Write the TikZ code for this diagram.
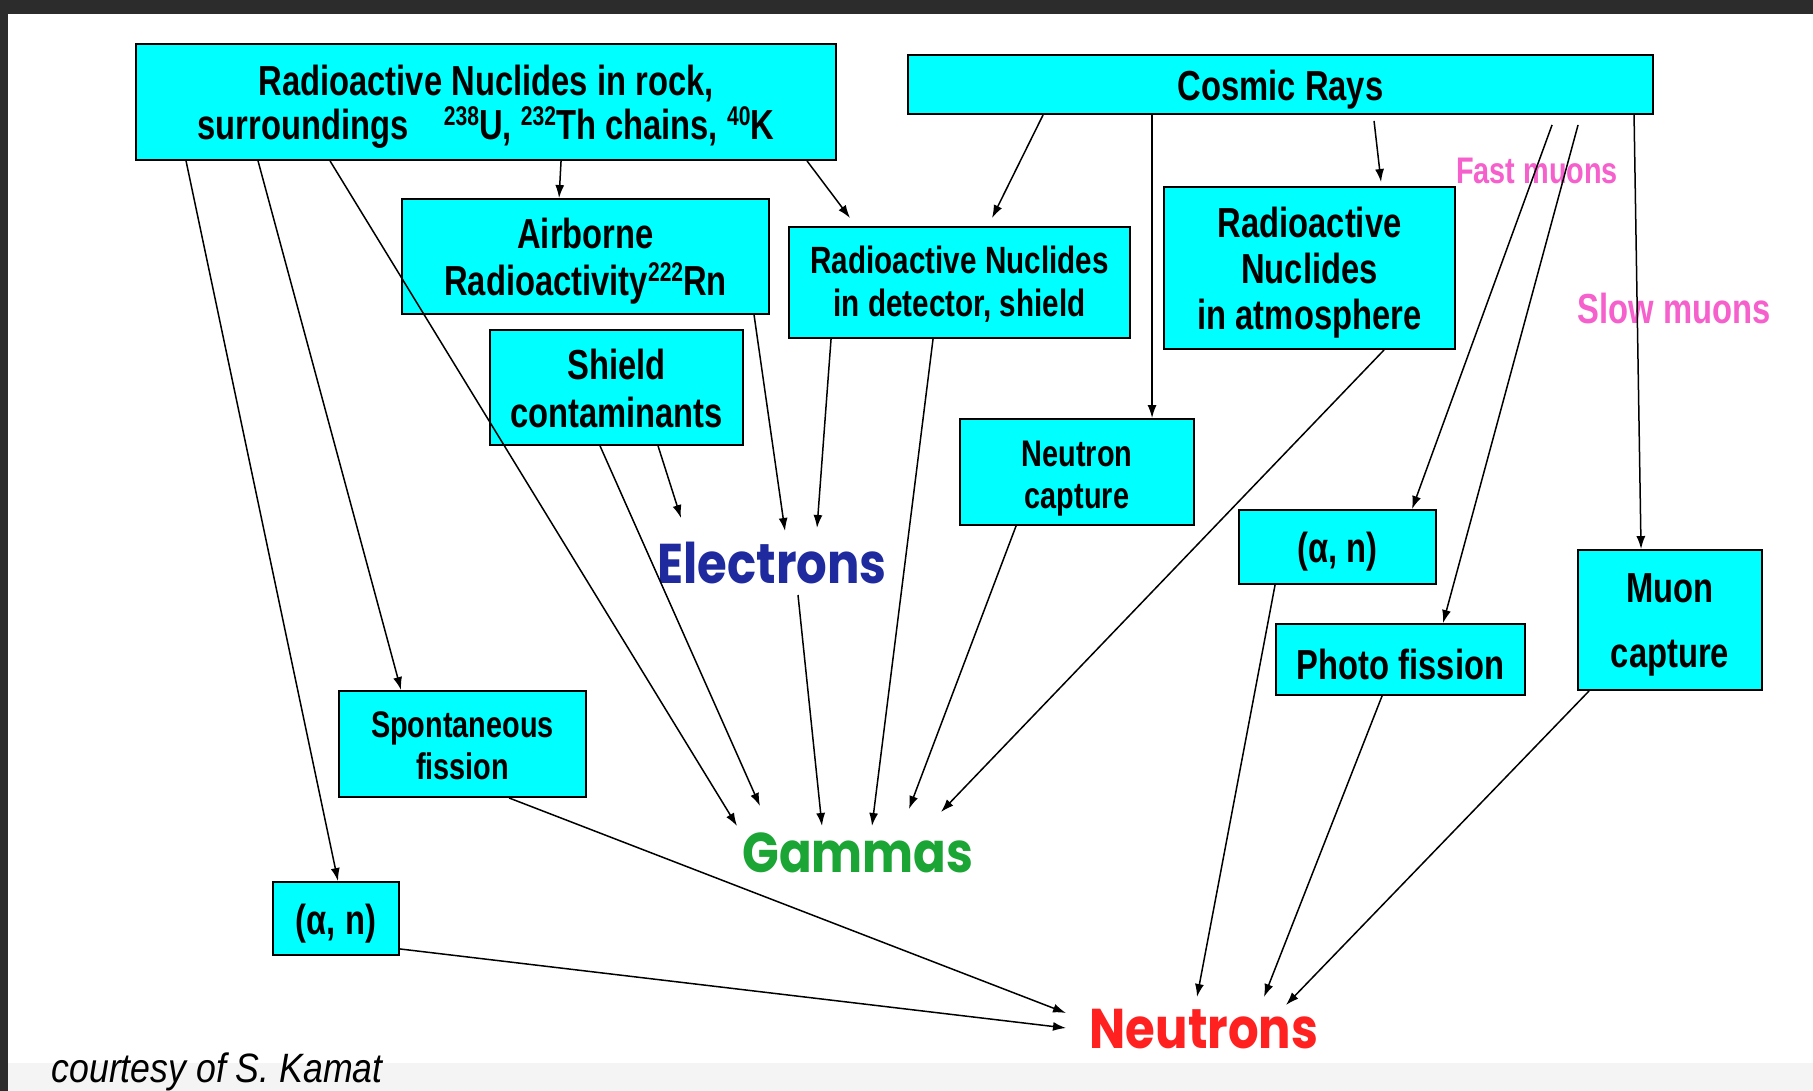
\documentclass[tikz,border=0pt]{standalone}
\usepackage{fontspec}
\setmainfont{Liberation Sans}
\newfontfamily\nb[FakeStretch=0.78]{Liberation Sans}
\newfontfamily\comic[FakeStretch=0.86]{Poppins}
\newfontfamily\cit[FakeStretch=0.87]{Liberation Sans}
\usetikzlibrary{arrows.meta}
\definecolor{boxcyan}{HTML}{00FFFF}
\definecolor{elecblue}{HTML}{1E2A9E}
\definecolor{gamgreen}{HTML}{1BA535}
\definecolor{neured}{HTML}{FF2020}
\definecolor{muonpink}{HTML}{F560CC}
\definecolor{framedark}{HTML}{2C2C2C}
\definecolor{bottomgrey}{HTML}{F4F4F4}
\newcommand\upnum[1]{\raisebox{14pt}{\fontsize{27}{27}\selectfont #1}}
\begin{document}
\begin{tikzpicture}[x=1pt,y=-1pt,
  box/.style={draw=black, line width=1.9pt, fill=boxcyan, inner sep=0pt},
  boxtext/.style={align=center, inner sep=0pt, yshift=-5pt,
    font={\nb\bfseries\fontsize{42}{44}\selectfont}},
  smalltext/.style={boxtext, yshift=-2pt, font={\nb\bfseries\fontsize{37}{42}\selectfont}},
  conn/.style={line width=1.5pt, -{Latex[length=13pt,width=9pt]}},
  bigword/.style={font={\comic\bfseries\fontsize{56}{56}\selectfont}},
  muonlabel/.style={text=muonpink, font={\nb\bfseries\fontsize{42}{42}\selectfont}}]
% canvas and frame
\fill[white] (0,0) rectangle (1813,1091);
\fill[bottomgrey] (0,1063) rectangle (1813,1091);
\fill[framedark] (0,0) rectangle (1813,14);
\fill[framedark] (0,0) rectangle (8,1091);
\useasboundingbox (0,0) rectangle (1813,1091);

% boxes
\node[box, minimum width=700, minimum height=116] (rock) at (486,102) {};
\node[box, minimum width=745, minimum height=59] (cos) at (1280.5,84.5) {};
\node[box, minimum width=367, minimum height=115] (air) at (585.5,256.5) {};
\node[box, minimum width=341, minimum height=111] (det) at (959.5,282.5) {};
\node[box, minimum width=291, minimum height=162] (atm) at (1309.5,268) {};
\node[box, minimum width=253, minimum height=115] (shield) at (616.5,387.5) {};
\node[box, minimum width=234, minimum height=106] (ncap) at (1077,472) {};
\node[box, minimum width=197, minimum height=74] (anR) at (1337.5,547) {};
\node[box, minimum width=184, minimum height=140] (muon) at (1670,620) {};
\node[box, minimum width=249, minimum height=71] (photo) at (1400.5,659.5) {};
\node[box, minimum width=247, minimum height=106] (spont) at (462.5,744) {};
\node[box, minimum width=126, minimum height=73] (anL) at (336,918.5) {};

% box texts
\node[boxtext] (rockT) at (rock.center)
  {Radioactive Nuclides in rock,\\surroundings\hspace{26pt} \upnum{238}U, \upnum{232}Th chains, \upnum{40}K};
\node[boxtext] (cosT) at (cos.center) {Cosmic Rays};
\node[boxtext, font={\nb\bfseries\fontsize{42}{47}\selectfont}] (airT) at (air.center)
  {Airborne\\Radioactivity\upnum{222}Rn};
\node[smalltext, yshift=5pt, font={\nb\bfseries\fontsize{38}{43}\selectfont}] (detT) at (det.center)
  {Radioactive Nuclides\\in detector, shield};
\node[boxtext, font={\nb\bfseries\fontsize{42}{46}\selectfont}] (atmT) at (atm.center)
  {Radioactive\\Nuclides\\in atmosphere};
\node[boxtext, yshift=4pt, font={\nb\bfseries\fontsize{42}{48}\selectfont}] (shieldT) at (shield.center)
  {Shield\\contaminants};
\node[smalltext] (ncapT) at (ncap.center) {Neutron\\capture};
\node[boxtext] (anRT) at (anR.center) {(α, n)};
\node[boxtext, font={\nb\bfseries\fontsize{42}{65}\selectfont}] (muonT) at (muon.center) {Muon\\capture};
\node[boxtext] (photoT) at (photo.center) {Photo fission};
\node[smalltext, yshift=5pt] (spontT) at (spont.center) {Spontaneous\\fission};
\node[boxtext] (anLT) at (anL.center) {(α, n)};

% labels
\node[bigword, text=elecblue] (el) at (772,563) {Electrons};
\node[bigword, text=gamgreen] (gam) at (858,853) {Gammas};
\node[bigword, text=neured] (neu) at (1204,1029) {Neutrons};
\node[muonlabel, font={\nb\bfseries\fontsize{37}{37}\selectfont}] (fast) at (1537,171) {Fast muons};
\node[muonlabel] (slow) at (1674,308) {Slow muons};
\node[anchor=base west, font={\cit\itshape\fontsize{41}{41}\selectfont}] (credit) at (48,1082) {courtesy of S. Kamat};

% connectors
\draw[conn] ([xshift=51]rock.south west) -- ([xshift=2]anL.north);
\draw[conn] ([xshift=123]rock.south west) -- ([xshift=63]spont.north west);
\draw[conn] ([xshift=195]rock.south west) -- ([xshift=-121,yshift=27]gam.center);
\draw[conn] ([xshift=426]rock.south west) -- ([xshift=158]air.north west);
\draw[conn] ([xshift=672]rock.south west) -- ([xshift=62,yshift=8]det.north west);
\draw[conn] ([xshift=136]cos.south west) -- ([xshift=204,yshift=8]det.north west);
\draw[conn] ([xshift=245]cos.south west) -- ([xshift=193]ncap.north west);
\draw[conn] ([xshift=467,yshift=-6]cos.south west) -- ([xshift=218,yshift=4]atm.north west);
\draw[conn] ([xshift=645,yshift=-10]cos.south west) -- ([xshift=174]anR.north west);
\draw[conn] ([xshift=671,yshift=-10]cos.south west) -- ([xshift=168]photo.north west);
\draw[conn] ([xshift=727]cos.south west) -- ([xshift=64]muon.north west);
\draw[conn] ([xshift=353]air.south west) -- ([xshift=13,yshift=32]el.center);
\draw[conn] ([xshift=43]det.south west) -- ([xshift=45,yshift=35]el.center);
\draw[conn] ([xshift=145]det.south west) -- ([xshift=14,yshift=27]gam.center);
\draw[conn] ([xshift=169]shield.south west) -- ([xshift=-91,yshift=45]el.center);
\draw[conn] ([xshift=111]shield.south west) -- ([xshift=-98,yshift=47]gam.center);
\draw[conn] ([xshift=26,yshift=-32]el.center) -- ([xshift=-36,yshift=27]gam.center);
\draw[conn] ([xshift=57]ncap.south west) -- ([xshift=51,yshift=44]gam.center);
\draw[conn] ([xshift=221]atm.south west) -- ([xshift=83,yshift=41]gam.center);
\draw[conn] ([xshift=37]anR.south west) -- ([xshift=-7,yshift=32]neu.center);
\draw[conn] ([xshift=107]photo.south west) -- ([xshift=60,yshift=32]neu.center);
\draw[conn] ([xshift=12]muon.south west) -- ([xshift=82,yshift=24]neu.center);
\draw[conn] ([xshift=171]spont.south west) -- ([xshift=-138,yshift=16]neu.center);
\draw[conn] ([yshift=7]anL.south east) -- ([xshift=-138,yshift=1]neu.center);
\end{tikzpicture}
\end{document}
